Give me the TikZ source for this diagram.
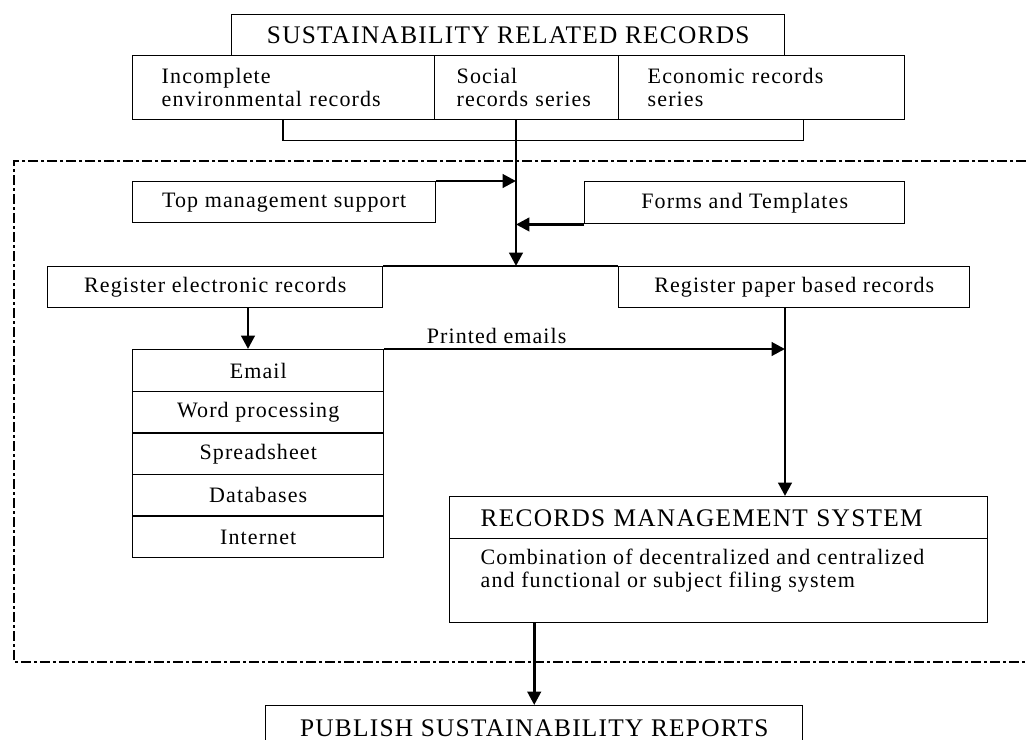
\documentclass[tikz,border=0pt]{standalone}
\usepackage{fontspec}
\setmainfont{Liberation Serif}
\newfontfamily\boxfont[LetterSpace=5]{Liberation Serif}
\newfontfamily\capsfont[LetterSpace=5]{Liberation Serif}
\usetikzlibrary{arrows.meta,calc}

\tikzset{
  box/.style={draw, rectangle, line width=1.1pt, inner sep=0pt, anchor=north west,
    font=\boxfont\fontsize{16.5}{17.25}\selectfont},
  capsbox/.style={box, font=\capsfont\fontsize{19}{22}\selectfont},
  boxsize/.style 2 args={minimum width=#1*0.75pt, minimum height=#2*0.75pt},
  flow/.style={line width=2.2pt, -{Triangle[length=10pt, width=10pt]}},
  frame/.style={line width=2pt, dash pattern=on 7.5pt off 2.25pt on 2.25pt off 2.25pt}
}

\begin{document}
\begin{tikzpicture}[x=0.75pt, y=-0.75pt]
    \fill[white] (0,0) rectangle (1026,740);
    \useasboundingbox (0,0) rectangle (1026,740);
    % records on top
    \node[capsbox, boxsize={553}{41}] (title) at (231,14) {SUSTAINABILITY RELATED RECORDS};
    \node[box, boxsize={302}{64}, align=left, inner xsep=21.75pt, text width=183pt] (envir) at (132,55) {Incomplete\\environmental records};
    \node[box, boxsize={184}{64}, align=left, inner xsep=16.5pt, text width=105pt] (social) at (434,55) {Social\\records series};
    \node[box, boxsize={286}{64}, align=left, inner xsep=21.75pt, text width=171pt] (econ) at (618,55) {Economic records\\series};
    \draw[line width=1.1pt] ($(envir.south west)+(151,0)$) -- ++(0,20) -| ($(econ.south east)+(-102,0)$);
    % inside the frame
    \node[box, boxsize={303}{41}] (topmgmt) at (132,181) {Top management support};
    \node[box, boxsize={320}{42}] (forms) at (584,181) {Forms and Templates};
    \node[box, boxsize={335}{41}] (regelec) at (47,266) {Register electronic records};
    \node[box, boxsize={351}{41}] (regpaper) at (618,266) {Register paper based records};
    \foreach \entry [count=\i] in {Email, Word processing, Spreadsheet, Databases, Internet}
      \node[box, boxsize={251}{41.6}] (mail\i) at (132,{349+41.6*(\i-1)}) {\entry};
    \node[capsbox, boxsize={538}{42}, align=left, inner xsep=23.25pt, text width=357pt] (rmshead) at (449,496) {RECORDS MANAGEMENT SYSTEM};
    \node[box, boxsize={538}{84}] (rmsbody) at (449,538) {};
    \node[box, draw=none, align=left] (rmstext) at (480,548) {Combination of decentralized and centralized\\and functional or subject filing system};
    \node[capsbox, boxsize={537}{45}] (publish) at (265,705) {PUBLISH SUSTAINABILITY REPORTS};
    % connectors
    \coordinate (join) at (516,266);
    \draw[flow] (join |- social.south) -- (join);
    \draw[flow] (topmgmt.north east) -- (topmgmt.north east -| join);
    \draw[flow] (forms.south west) -- (forms.south west -| join);
    \draw[line width=1.1pt] (regelec.north east) -- (regpaper.north west);
    \coordinate (edrop) at ($(mail1.north west)+(116,0)$);
    \draw[flow] (edrop |- regelec.south) -- (edrop);
    \coordinate (pdrop) at ($(regpaper.south west)+(167,0)$);
    \draw[flow] (pdrop) -- (pdrop |- rmshead.north);
    \draw[flow] (mail1.north east) -- (mail1.north east -| pdrop)
      node[pos=0.28, above, inner sep=3pt, font=\boxfont\fontsize{16.5}{17.25}\selectfont] {Printed emails};
    \draw[flow] (rmsbody.south -| publish.north) -- (publish.north);
    \draw[frame] (1026,161) -- (14,161) -- (14,662) -- (1026,662);
\end{tikzpicture}
\end{document}
